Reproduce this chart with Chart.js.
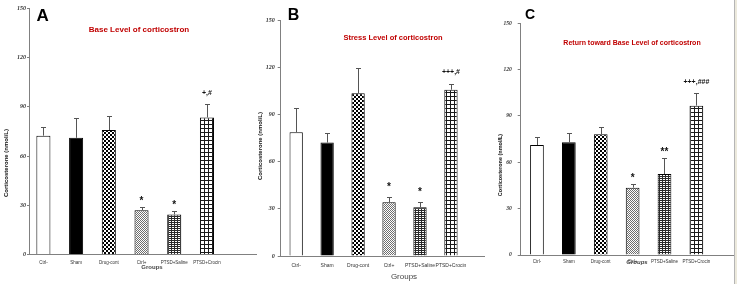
<!DOCTYPE html>
<html>
<head>
<meta charset="utf-8">
<script src="https://cdn.jsdelivr.net/npm/chart.js@4"></script>
<style>
  html, body { margin: 0; padding: 0; background: #fff; }
  body { width: 737px; height: 284px; position: relative; overflow: hidden; }
  canvas { position: absolute; top: 0; }
  #edge { position: absolute; left: 734px; top: 0; width: 3px; height: 284px; background: #ece9dc; border-left: 1px solid #b5b5b5; box-sizing: border-box; }
</style>
</head>
<body>
<canvas id="panelA" width="257" height="284" style="left:0px"></canvas>
<canvas id="panelB" width="235" height="284" style="left:250px"></canvas>
<canvas id="panelC" width="240" height="284" style="left:494px"></canvas>
<div id="edge"></div>
<script>
// groups on the x axis
const groups = ["Ctrl-", "Sham", "Drug-cont", "Ctrl+", "PTSD+Saline", "PTSD+Crocin"];
const yTicks = [0, 30, 60, 90, 120, 150];

// A - base level
const baseMean = [72.4, 71.1, 75.8, 27.0, 24.4, 83.5];
const baseErr = [5.4, 11.8, 8.8, 2.1, 2.0, 8.2];
const baseMarks = ["", "", "", "*", "*", "+,#"];

// B - stress level
const stressMean = [78.9, 72.3, 103.8, 34.3, 31.1, 106.0];
const stressErr = [15.4, 6.0, 16.2, 3.6, 3.4, 3.8];
const stressMarks = ["", "", "", "*", "*", "+++,#"];

// C - return toward base level
const returnMean = [71.2, 73.0, 78.1, 43.6, 52.4, 96.7];
const returnErr = [5.0, 5.8, 4.6, 2.2, 10.2, 8.4];
const returnMarks = ["", "", "", "*", "**", "+++,###"];

Chart.defaults.font.family = "'Liberation Sans', Arial, sans-serif";

function pattern(w, h, draw) {
  const c = document.createElement("canvas");
  c.width = w; c.height = h;
  const g = c.getContext("2d");
  g.fillStyle = "#fff";
  g.fillRect(0, 0, w, h);
  draw(g);
  return g.createPattern(c, "repeat");
}

const fills = [
  "#ffffff",
  "#000000",
  pattern(4, 4, g => { g.fillStyle = "#000"; g.fillRect(0, 0, 2, 2); g.fillRect(2, 2, 2, 2); }),
  pattern(2, 2, g => { g.fillStyle = "#6e6e6e"; g.fillRect(0, 0, 1, 1); g.fillRect(1, 1, 1, 1); }),
  pattern(3, 2, g => { g.fillStyle = "#2a2a2a"; g.fillRect(0, 0, 3, 1); g.fillRect(0, 0, 1, 2); }),
  pattern(4, 4, g => { g.fillStyle = "#1a1a1a"; g.fillRect(0, 0, 4, 1); g.fillRect(0, 0, 1, 4); })
];

const axisGrey = "#808080";

function decor(p) {
  return {
    id: "decor",
    afterDatasetsDraw(chart) {
      const { ctx, scales: { y } } = chart;
      const bars = chart.getDatasetMeta(0).data;
      ctx.save();
      // error bars (upper half only) and significance marks
      ctx.strokeStyle = "#555";
      ctx.lineWidth = 1;
      bars.forEach((bar, i) => {
        const cx = Math.round(bar.x) + 0.5;
        const top = Math.round(y.getPixelForValue(p.mean[i] + p.err[i])) + 0.5;
        ctx.beginPath();
        ctx.moveTo(cx, bar.y);
        ctx.lineTo(cx, top);
        ctx.moveTo(cx - 2.5, top);
        ctx.lineTo(cx + 2.5, top);
        ctx.stroke();
        const m = p.marks[i];
        if (m) {
          const stars = /^\*+$/.test(m);
          ctx.fillStyle = "#111";
          ctx.textAlign = "center";
          ctx.textBaseline = "alphabetic";
          ctx.font = stars ? "bold 10px 'Liberation Sans'" : "bold 7px 'Liberation Sans'";
          ctx.fillText(m, bar.x, top - (stars ? p.starGap : p.textGap));
        }
      });
      // panel letter
      ctx.fillStyle = "#000";
      ctx.textAlign = "left";
      ctx.textBaseline = "alphabetic";
      ctx.font = "bold " + p.letterSize + "px 'Liberation Sans'";
      ctx.fillText(p.letter, p.letterX, p.letterY);
      // panel title
      ctx.fillStyle = "#c00000";
      ctx.textAlign = "center";
      ctx.textBaseline = "middle";
      ctx.font = "bold " + p.titleSize + "px 'Liberation Sans'";
      ctx.fillText(p.title, p.titleX, p.titleY);
      // y axis title
      ctx.fillStyle = "#111";
      ctx.font = "bold " + p.yTitleSize + "px 'Liberation Sans'";
      ctx.translate(p.yTitleX, p.yTitleY);
      ctx.rotate(-Math.PI / 2);
      ctx.fillText("Corticosterone (nmol/L)", 0, 0);
      ctx.setTransform(1, 0, 0, 1, 0, 0);
      // x axis title
      ctx.fillStyle = "#444";
      ctx.font = p.groupsFont;
      ctx.fillText("Groups", p.groupsX, p.groupsY);
      ctx.restore();
    }
  };
}

function makePanel(id, p) {
  return new Chart(document.getElementById(id), {
    type: "bar",
    data: {
      datasets: [{
        data: p.mean.map((v, i) => ({ x: i, y: v })),
        backgroundColor: fills,
        borderColor: "#000",
        borderWidth: 1,
        barPercentage: 0.43,
        categoryPercentage: 1
      }]
    },
    options: {
      responsive: false,
      animation: false,
      layout: { padding: { top: p.top, right: 0, bottom: 0, left: 0 } },
      plugins: { legend: { display: false }, tooltip: { enabled: false } },
      scales: {
        x: {
          type: "linear",
          min: p.xMin,
          max: p.xMax,
          offset: false,
          grid: { display: false, drawTicks: false },
          border: { color: axisGrey, width: 1 },
          afterBuildTicks: s => { s.ticks = groups.map((g, i) => ({ value: i })); },
          afterFit: s => { s.height = p.xh; },
          ticks: {
            autoSkip: false,
            maxRotation: 0,
            padding: p.xPad,
            color: "#333",
            font: { size: p.xFont },
            callback: v => groups[v]
          }
        },
        y: {
          min: 0,
          max: 150,
          afterBuildTicks: s => { s.ticks = yTicks.map(v => ({ value: v })); },
          afterFit: s => { s.width = p.yw; },
          grid: { drawOnChartArea: false, tickLength: p.tickLen, color: axisGrey },
          border: { color: axisGrey, width: 1 },
          ticks: {
            padding: p.yPad,
            color: "#333",
            font: { family: "'Liberation Serif'", style: "italic", weight: "bold", size: p.yFont }
          }
        }
      }
    },
    plugins: [decor(p)]
  });
}

makePanel("panelA", {
  mean: baseMean, err: baseErr, marks: baseMarks,
  letter: "A", title: "Base Level of corticostron",
  top: 8.3, yw: 29, xh: 29.5, xMin: -0.44, xMax: 6.53,
  xFont: 4.5, xPad: 5.5, yFont: 6, yPad: 1, tickLen: 2,
  starGap: 3.5, textGap: 9.5,
  letterSize: 17, letterX: 36.5, letterY: 20.5,
  titleSize: 8, titleX: 139, titleY: 29.5,
  yTitleSize: 6, yTitleX: 6, yTitleY: 163,
  groupsFont: "bold 6px 'Liberation Sans'", groupsX: 152, groupsY: 267.5
});

makePanel("panelB", {
  mean: stressMean, err: stressErr, marks: stressMarks,
  letter: "B", title: "Stress Level of corticostron",
  top: 20.7, yw: 30.7, xh: 28, xMin: -0.5, xMax: 6.1,
  xFont: 5, xPad: 7, yFont: 6, yPad: 3, tickLen: 3,
  starGap: 7.5, textGap: 10.5,
  letterSize: 16, letterX: 37.7, letterY: 20,
  titleSize: 7.5, titleX: 143, titleY: 38,
  yTitleSize: 6, yTitleX: 10, yTitleY: 146,
  groupsFont: "8px 'Liberation Sans'", groupsX: 154, groupsY: 277
});

makePanel("panelC", {
  mean: returnMean, err: returnErr, marks: returnMarks,
  letter: "C", title: "Return toward Base Level of corticostron",
  top: 23.3, yw: 26.7, xh: 29, xMin: -0.51, xMax: 6.18,
  xFont: 4.5, xPad: 4.5, yFont: 5.5, yPad: 6, tickLen: 3,
  starGap: 4, textGap: 10,
  letterSize: 14, letterX: 31, letterY: 19.3,
  titleSize: 7, titleX: 138, titleY: 43,
  yTitleSize: 5.5, yTitleX: 6, yTitleY: 165,
  groupsFont: "italic bold 6px 'Liberation Sans'", groupsX: 143, groupsY: 262
});
</script>
</body>
</html>
